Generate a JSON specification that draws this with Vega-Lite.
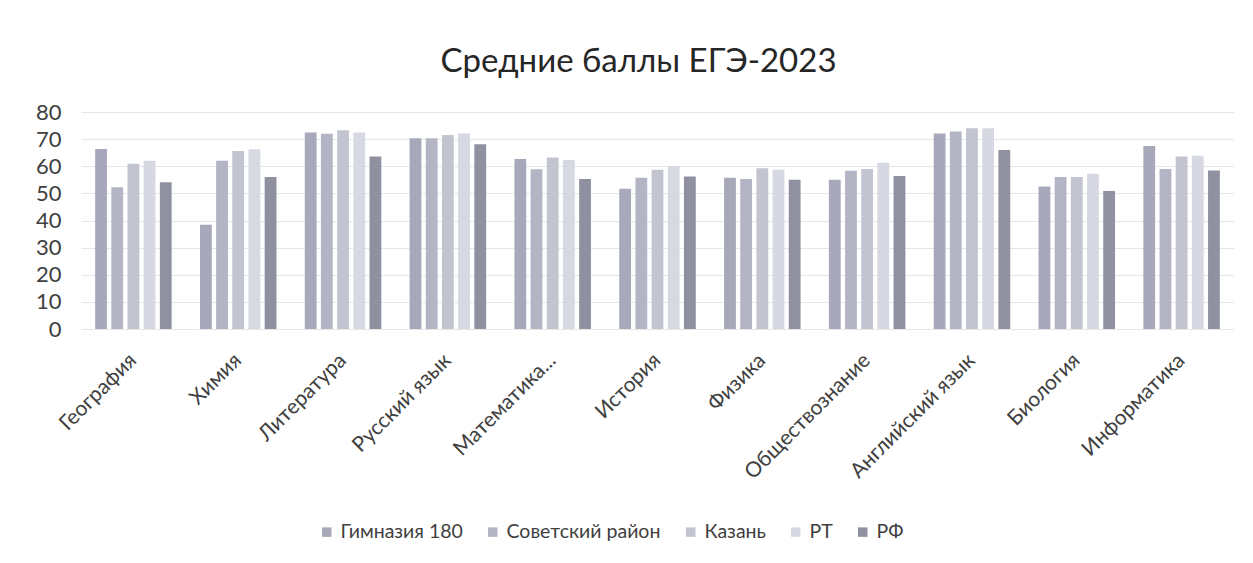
{
  "$schema": "https://vega.github.io/schema/vega-lite/v6.json",
  "autosize": {"type": "none"},
  "width": 1153,
  "height": 217,
  "padding": {"left": 81, "top": 112, "right": 19, "bottom": 234},
  "background": "white",
  "title": {
    "text": "Средние баллы ЕГЭ-2023",
    "fontSize": 33,
    "font": "Lato",
    "fontWeight": "normal",
    "color": "#262626",
    "anchor": "middle",
    "frame": "group",
    "offset": 22,
    "dx": -19
  },
  "data": {
    "values": [
      {"subject": "География", "group": "Гимназия 180", "score": 66.4},
      {"subject": "География", "group": "Советский район", "score": 52.3},
      {"subject": "География", "group": "Казань", "score": 60.9},
      {"subject": "География", "group": "РТ", "score": 62.0},
      {"subject": "География", "group": "РФ", "score": 54.1},
      {"subject": "Химия", "group": "Гимназия 180", "score": 38.4},
      {"subject": "Химия", "group": "Советский район", "score": 62.0},
      {"subject": "Химия", "group": "Казань", "score": 65.6},
      {"subject": "Химия", "group": "РТ", "score": 66.3},
      {"subject": "Химия", "group": "РФ", "score": 56.0},
      {"subject": "Литература", "group": "Гимназия 180", "score": 72.4},
      {"subject": "Литература", "group": "Советский район", "score": 72.0},
      {"subject": "Литература", "group": "Казань", "score": 73.3},
      {"subject": "Литература", "group": "РТ", "score": 72.4},
      {"subject": "Литература", "group": "РФ", "score": 63.6},
      {"subject": "Русский язык", "group": "Гимназия 180", "score": 70.3},
      {"subject": "Русский язык", "group": "Советский район", "score": 70.3},
      {"subject": "Русский язык", "group": "Казань", "score": 71.5},
      {"subject": "Русский язык", "group": "РТ", "score": 72.1},
      {"subject": "Русский язык", "group": "РФ", "score": 68.1},
      {"subject": "Математика...", "group": "Гимназия 180", "score": 62.7},
      {"subject": "Математика...", "group": "Советский район", "score": 58.9},
      {"subject": "Математика...", "group": "Казань", "score": 63.2},
      {"subject": "Математика...", "group": "РТ", "score": 62.3},
      {"subject": "Математика...", "group": "РФ", "score": 55.3},
      {"subject": "История", "group": "Гимназия 180", "score": 51.7},
      {"subject": "История", "group": "Советский район", "score": 55.8},
      {"subject": "История", "group": "Казань", "score": 58.7},
      {"subject": "История", "group": "РТ", "score": 60.1},
      {"subject": "История", "group": "РФ", "score": 56.2},
      {"subject": "Физика", "group": "Гимназия 180", "score": 55.8},
      {"subject": "Физика", "group": "Советский район", "score": 55.3},
      {"subject": "Физика", "group": "Казань", "score": 59.3},
      {"subject": "Физика", "group": "РТ", "score": 58.7},
      {"subject": "Физика", "group": "РФ", "score": 55.0},
      {"subject": "Обществознание", "group": "Гимназия 180", "score": 55.0},
      {"subject": "Обществознание", "group": "Советский район", "score": 58.3},
      {"subject": "Обществознание", "group": "Казань", "score": 59.0},
      {"subject": "Обществознание", "group": "РТ", "score": 61.3},
      {"subject": "Обществознание", "group": "РФ", "score": 56.4},
      {"subject": "Английский язык", "group": "Гимназия 180", "score": 72.1},
      {"subject": "Английский язык", "group": "Советский район", "score": 72.8},
      {"subject": "Английский язык", "group": "Казань", "score": 74.0},
      {"subject": "Английский язык", "group": "РТ", "score": 74.0},
      {"subject": "Английский язык", "group": "РФ", "score": 66.0},
      {"subject": "Биология", "group": "Гимназия 180", "score": 52.5},
      {"subject": "Биология", "group": "Советский район", "score": 56.0},
      {"subject": "Биология", "group": "Казань", "score": 56.0},
      {"subject": "Биология", "group": "РТ", "score": 57.2},
      {"subject": "Биология", "group": "РФ", "score": 50.9},
      {"subject": "Информатика", "group": "Гимназия 180", "score": 67.5},
      {"subject": "Информатика", "group": "Советский район", "score": 59.0},
      {"subject": "Информатика", "group": "Казань", "score": 63.6},
      {"subject": "Информатика", "group": "РТ", "score": 63.9},
      {"subject": "Информатика", "group": "РФ", "score": 58.4}
    ]
  },
  "mark": {"type": "bar"},
  "encoding": {
    "x": {
      "field": "subject",
      "type": "nominal",
      "sort": null,
      "title": null,
      "scale": {"paddingInner": 0.27, "paddingOuter": 0.135},
      "axis": {
        "labelAngle": -45,
        "labelAlign": "right",
        "labelBaseline": "middle",
        "labelFontSize": 21,
        "labelFont": "Lato",
        "labelColor": "#404040",
        "labelPadding": 28,
        "ticks": false,
        "domain": false,
        "labelLimit": 300
      }
    },
    "xOffset": {
      "field": "group",
      "type": "nominal",
      "sort": ["Гимназия 180", "Советский район", "Казань", "РТ", "РФ"],
      "scale": {"paddingInner": 0.27}
    },
    "y": {
      "field": "score",
      "type": "quantitative",
      "title": null,
      "scale": {"domain": [0, 80], "nice": false},
      "axis": {
        "values": [0, 10, 20, 30, 40, 50, 60, 70, 80],
        "labelFontSize": 22,
        "labelFont": "Lato",
        "labelColor": "#404040",
        "labelPadding": 20,
        "ticks": false,
        "domain": false,
        "gridColor": "#e6e6e6",
        "gridWidth": 1
      }
    },
    "color": {
      "field": "group",
      "type": "nominal",
      "sort": ["Гимназия 180", "Советский район", "Казань", "РТ", "РФ"],
      "scale": {
        "domain": ["Гимназия 180", "Советский район", "Казань", "РТ", "РФ"],
        "range": ["#a7a9bb", "#b3b5c4", "#c2c5d0", "#d6d9e2", "#8f91a1"]
      },
      "legend": {
        "title": null,
        "orient": "none",
        "direction": "horizontal",
        "legendX": 236,
        "legendY": 410,
        "symbolType": "square",
        "symbolSize": 90,
        "symbolStrokeWidth": 0,
        "labelFontSize": 19.5,
        "labelFont": "Lato",
        "labelColor": "#404040",
        "columnPadding": 20,
        "labelOffset": 4
      }
    }
  },
  "config": {"view": {"stroke": null}}
}
